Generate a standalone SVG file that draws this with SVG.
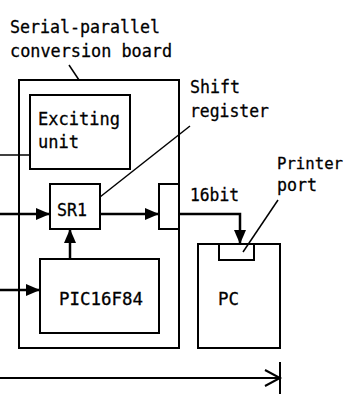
<svg xmlns="http://www.w3.org/2000/svg" width="350" height="406" viewBox="0 0 350 406">
<style>
  text { font-family: "DejaVu Sans Mono", "Liberation Mono", monospace; font-size: 18px; fill: #000; stroke: #000; stroke-width: 0.3; }
  .sm { font-size: 16.5px; }
  .box { fill: none; stroke: #000; stroke-width: 2; }
  .wire { fill: none; stroke: #000; stroke-width: 2.5; }
  .thin { fill: none; stroke: #000; stroke-width: 1.5; }
</style>
<defs>
  <marker id="ah" viewBox="0 0 14 12" refX="14" refY="6" markerWidth="14" markerHeight="12" markerUnits="userSpaceOnUse" orient="auto">
    <path d="M0,0 L14,6 L0,12 Z" fill="#000"/>
  </marker>
</defs>
<rect width="350" height="406" fill="#fff"/>

<g id="board">
  <rect class="box" x="19" y="80" width="160" height="268"/>
  <text x="10" y="33" textLength="150" lengthAdjust="spacingAndGlyphs">Serial-parallel</text>
  <text x="10" y="57" textLength="162" lengthAdjust="spacingAndGlyphs">conversion board</text>
  <line class="thin" x1="69" y1="65" x2="79" y2="80"/>
</g>

<g id="exciting">
  <rect class="box" x="30" y="95" width="100" height="74"/>
  <text x="38" y="125" textLength="82" lengthAdjust="spacingAndGlyphs">Exciting</text>
  <text x="38" y="148" textLength="41" lengthAdjust="spacingAndGlyphs">unit</text>
</g>

<g id="sr1">
  <rect class="box" x="50" y="184" width="50" height="45"/>
  <text x="57" y="216" textLength="30" lengthAdjust="spacingAndGlyphs">SR1</text>
</g>

<g id="shift-register-label">
  <text x="190" y="93" textLength="50" lengthAdjust="spacingAndGlyphs">Shift</text>
  <text x="190" y="117" textLength="79" lengthAdjust="spacingAndGlyphs">register</text>
  <line class="thin" x1="100" y1="197" x2="190" y2="126"/>
</g>

<g id="connector">
  <rect class="box" x="159" y="184" width="20" height="45" fill="#fff"/>
</g>

<g id="pic">
  <rect class="box" x="40" y="259" width="119" height="74"/>
  <text x="59" y="305" textLength="84" lengthAdjust="spacingAndGlyphs">PIC16F84</text>
</g>

<g id="pc">
  <rect class="box" x="198" y="244" width="82" height="104"/>
  <rect class="box" x="219" y="244" width="35" height="16"/>
  <text x="218" y="305" textLength="21" lengthAdjust="spacingAndGlyphs">PC</text>
</g>

<g id="printer-port-label">
  <text class="sm" x="277" y="169" textLength="66" lengthAdjust="spacingAndGlyphs">Printer</text>
  <text x="277" y="191" textLength="40" lengthAdjust="spacingAndGlyphs">port</text>
  <line class="thin" x1="243" y1="252" x2="278" y2="200"/>
</g>

<g id="connectors">
  <line class="thin" x1="0" y1="155" x2="30" y2="155"/>
  <line class="wire" x1="0" y1="214" x2="50" y2="214" marker-end="url(#ah)"/>
  <line class="wire" x1="100" y1="214" x2="159" y2="214" marker-end="url(#ah)"/>
  <line class="wire" x1="70" y1="259" x2="70" y2="229" marker-end="url(#ah)"/>
  <line class="wire" x1="0" y1="290" x2="40" y2="290" marker-end="url(#ah)"/>
  <polyline class="wire" points="179,214 240,214 240,244" marker-end="url(#ah)"/>
  <text x="190" y="201" textLength="49" lengthAdjust="spacingAndGlyphs">16bit</text>
  <line class="box" x1="0" y1="378" x2="280" y2="378"/>
  <polyline class="box" points="265,370 280,378 265,386"/>
  <line class="box" x1="280" y1="362" x2="280" y2="394"/>
</g>
</svg>
